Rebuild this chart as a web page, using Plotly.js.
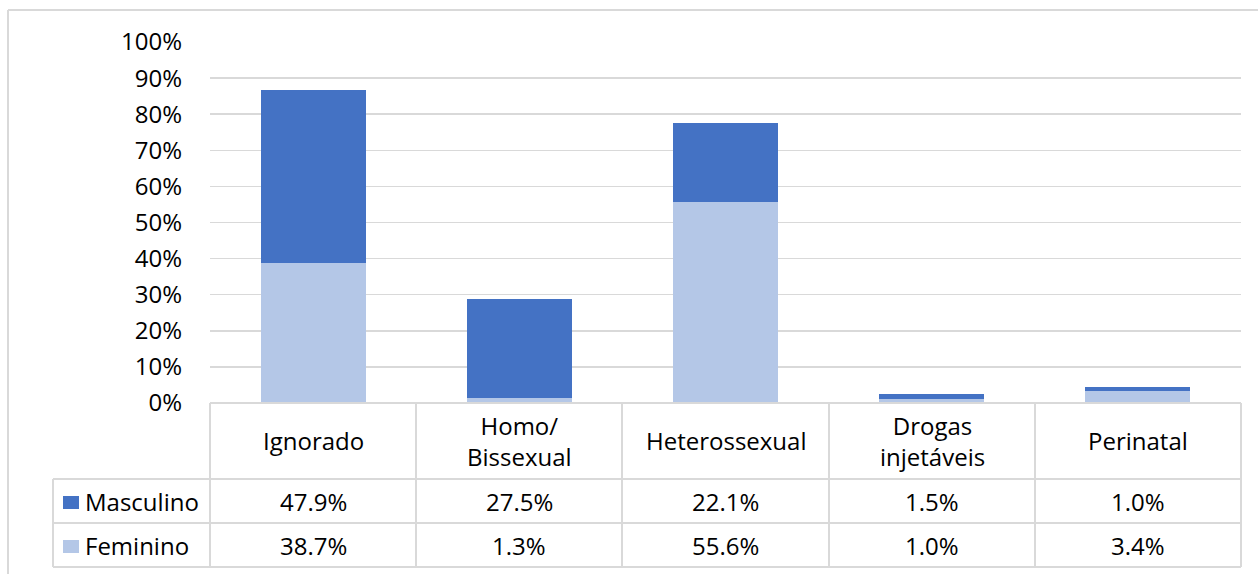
<!DOCTYPE html>
<html>
<head>
<meta charset="utf-8">
<script src="https://cdn.plot.ly/plotly-3.0.1.min.js"></script>
<style>html,body{margin:0;padding:0;background:#fff;}#chart{width:1258px;height:574px;}</style>
</head>
<body>
<div id="chart"></div>
<script>
// ---- data ----
const categories = ["Ignorado", "Homo/<br>Bissexual", "Heterossexual", "Drogas<br>injetáveis", "Perinatal"];
const seriesNames = ["Masculino", "Feminino"];
const masculino = [47.9, 27.5, 22.1, 1.5, 1.0];
const feminino = [38.7, 1.3, 55.6, 1.0, 3.4];
const yTickVals = [0, 10, 20, 30, 40, 50, 60, 70, 80, 90, 100];

// ---- styling ----
const FONT = "'Open Sans', Lato, sans-serif";
const FSIZE = 24;
const C_MASC = "#4472C4";
const C_FEM = "#B4C7E7";
const GRID = "#d9d9d9";
const W = 1258, H = 574;
const M = {l: 210, r: 17, t: 42, b: 171};
const PW = W - M.l - M.r, PH = H - M.t - M.b;
const px = x => (x - M.l) / PW;
const py = y => (H - M.b - y) / PH;

const xIdx = categories.map((_, i) => i);
const toFrac = a => a.map(v => v / 100);

const traces = [
  {type: "bar", name: seriesNames[1], x: xIdx, y: toFrac(feminino), marker: {color: C_FEM}, width: 0.51, hoverinfo: "none"},
  {type: "bar", name: seriesNames[0], x: xIdx, y: toFrac(masculino), marker: {color: C_MASC}, width: 0.51, hoverinfo: "none"}
];

const shapes = [];
const annotations = [];
const line = (x0, y0, x1, y1) => shapes.push({type: "line", xref: "paper", yref: "paper",
  x0: px(x0), y0: py(y0), x1: px(x1), y1: py(y1), line: {color: GRID, width: 2}});

// outer chart border
line(8, 10, 1258, 10);
line(8, 10, 8, 574);

// table geometry (pixels)
const colEdges = [210, 416, 622, 829, 1035, 1241];
const legendLeft = 53;
const rowEdges = [403, 479, 523, 567];

line(colEdges[0], rowEdges[0], colEdges[5], rowEdges[0]);
for (let r = 1; r < rowEdges.length; r++) line(legendLeft, rowEdges[r], colEdges[5], rowEdges[r]);
colEdges.forEach(x => line(x, rowEdges[0], x, rowEdges[3]));
line(legendLeft, rowEdges[1], legendLeft, rowEdges[3]);

const textFont = {family: FONT, size: FSIZE, color: "#000"};
// header
categories.forEach((c, i) => {
  annotations.push({xref: "paper", yref: "paper", x: px((colEdges[i] + colEdges[i + 1]) / 2),
    y: py((rowEdges[0] + rowEdges[1]) / 2), text: c, showarrow: false, font: textFont,
    xanchor: "center", yanchor: "middle"});
});
// rows
const rows = [{name: seriesNames[0], vals: masculino, color: C_MASC}, {name: seriesNames[1], vals: feminino, color: C_FEM}];
rows.forEach((row, r) => {
  const yc = (rowEdges[r + 1] + rowEdges[r + 2]) / 2;
  shapes.push({type: "rect", xref: "paper", yref: "paper", x0: px(63), x1: px(79),
    y0: py(yc + 8), y1: py(yc - 5), fillcolor: row.color, line: {width: 0}});
  annotations.push({xref: "paper", yref: "paper", x: px(83), y: py(yc), text: row.name,
    showarrow: false, font: textFont, xanchor: "left", yanchor: "middle"});
  row.vals.forEach((v, i) => {
    annotations.push({xref: "paper", yref: "paper", x: px((colEdges[i] + colEdges[i + 1]) / 2),
      y: py(yc), text: v.toFixed(1) + "%", showarrow: false, font: textFont,
      xanchor: "center", yanchor: "middle"});
  });
});

const layout = {
  width: W, height: H,
  margin: M,
  paper_bgcolor: "#fff", plot_bgcolor: "#fff",
  barmode: "stack",
  showlegend: false,
  xaxis: {range: [-0.5, 4.5], showticklabels: false, showgrid: false, zeroline: false, fixedrange: true},
  yaxis: {range: [0, 1], tickvals: toFrac(yTickVals), ticktext: yTickVals.map(v => v + "%"),
    showgrid: true, gridcolor: GRID, gridwidth: 1.5, zeroline: false, showline: false,
    tickfont: {family: FONT, size: FSIZE, color: "#000"}, ticklabelstandoff: 27, fixedrange: true},
  shapes: shapes,
  annotations: annotations
};

Plotly.newPlot("chart", traces, layout, {displayModeBar: false, staticPlot: true});
</script>
</body>
</html>
